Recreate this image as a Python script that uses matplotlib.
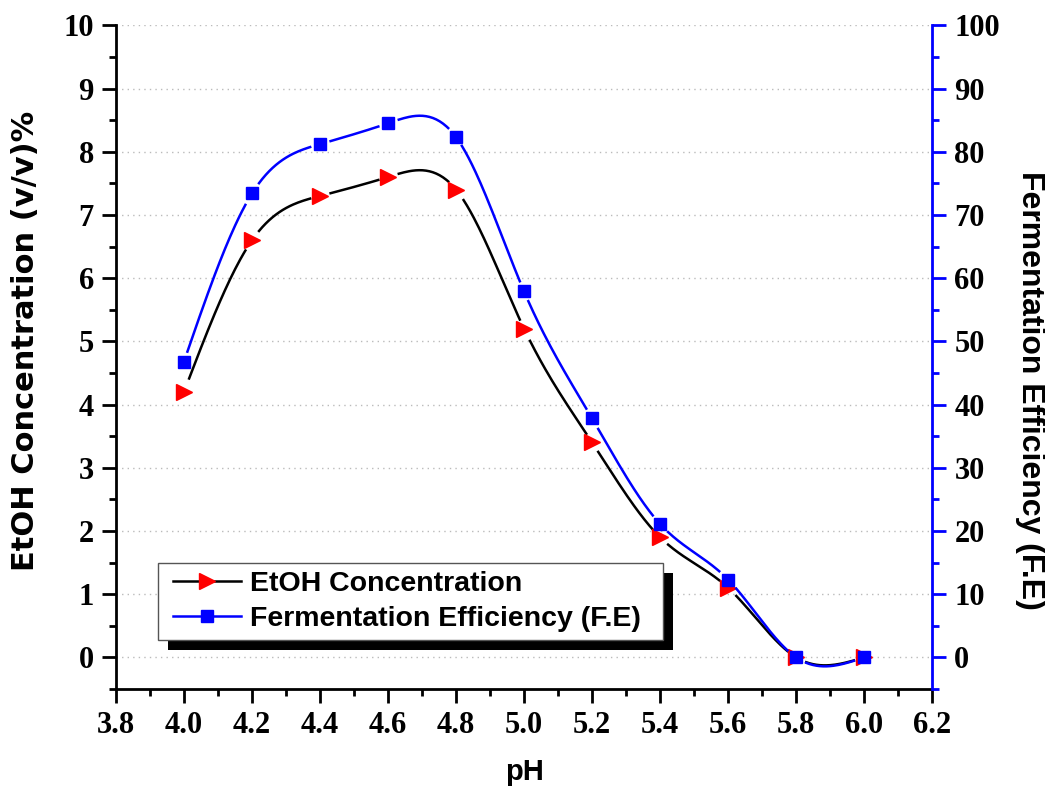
import matplotlib.pyplot as plt
import numpy as np
from matplotlib.patches import Rectangle

ph = [4.0, 4.2, 4.4, 4.6, 4.8, 5.0, 5.2, 5.4, 5.6, 5.8, 6.0]
etoh = [4.2, 6.6, 7.3, 7.6, 7.4, 5.2, 3.4, 1.9, 1.1, 0.0, 0.0]
fe = [46.8, 73.4, 81.2, 84.5, 82.3, 57.9, 37.8, 21.1, 12.3, 0.0, 0.0]


def natural_spline(x, y, n=400):
    x = np.asarray(x, float)
    y = np.asarray(y, float)
    h = np.diff(x)
    m = len(x)
    A = np.zeros((m, m))
    b = np.zeros(m)
    A[0, 0] = A[-1, -1] = 1
    for i in range(1, m - 1):
        A[i, i - 1] = h[i - 1]
        A[i, i] = 2 * (h[i - 1] + h[i])
        A[i, i + 1] = h[i]
        b[i] = 6 * ((y[i + 1] - y[i]) / h[i] - (y[i] - y[i - 1]) / h[i - 1])
    M = np.linalg.solve(A, b)
    xs = np.linspace(x[0], x[-1], n)
    idx = np.clip(np.searchsorted(x, xs) - 1, 0, m - 2)
    x0, x1 = x[idx], x[idx + 1]
    hh = x1 - x0
    t0, t1 = x1 - xs, xs - x0
    ys = (M[idx] * t0**3 + M[idx + 1] * t1**3) / (6 * hh) \
        + (y[idx] / hh - M[idx] * hh / 6) * t0 \
        + (y[idx + 1] / hh - M[idx + 1] * hh / 6) * t1
    return xs, ys


# blank the curve close to each marker (Origin style gap)
def gap_mask(xs, ys, x, y, sx, sy, gap=10):
    out = ys.copy()
    for xi, yi in zip(x, y):
        d = np.hypot((xs - xi) * sx, (ys - yi) * sy)
        out[d < gap] = np.nan
    return out


fig = plt.figure(figsize=(10.45, 7.91), dpi=100)
ax = fig.add_axes([0.111, 0.129, 0.781, 0.839])
ax2 = ax.twinx()

xlim = (3.8, 6.2)
ylim = (-0.5, 10)
ylim2 = (-5, 100)
sx = 816 / (xlim[1] - xlim[0])
sy = 664 / (ylim[1] - ylim[0])
sy2 = 664 / (ylim2[1] - ylim2[0])

xs, ys = natural_spline(ph, etoh)
ax.plot(xs, gap_mask(xs, ys, ph, etoh, sx, sy), color='black', lw=1.8, zorder=3)
ax.plot(ph, etoh, ls='none', marker='>', ms=11, color='red', mec='red', zorder=4)

xs2, ys2 = natural_spline(ph, fe)
ax2.plot(xs2, gap_mask(xs2, ys2, ph, fe, sx, sy2), color='blue', lw=1.8, zorder=3)
ax2.plot(ph, fe, ls='none', marker='s', ms=9, color='blue', mec='blue', zorder=4)

ax.set_xlim(*xlim)
ax.set_ylim(*ylim)
ax2.set_ylim(*ylim2)

xt = np.arange(3.8, 6.21, 0.2)
ax.set_xticks(xt)
ax.set_xticks(np.arange(3.9, 6.2, 0.2), minor=True)
ax.set_xticklabels([f'{v:.1f}' for v in xt])
ax.set_yticks(np.arange(0, 11, 1))
ax.set_yticks(np.arange(-0.5, 10, 1), minor=True)
ax2.set_yticks(np.arange(0, 101, 10))
ax2.set_yticks(np.arange(-5, 100, 10), minor=True)

ax.yaxis.grid(True, which='major', ls=(0, (1, 3)), color='#bbbbbb', lw=1)
ax.set_axisbelow(True)

for lbl in ax.get_xticklabels() + ax.get_yticklabels() + ax2.get_yticklabels():
    lbl.set_fontfamily('Liberation Serif')
    lbl.set_fontweight('bold')
    lbl.set_fontsize(22)

ax.tick_params(which='major', direction='out', length=10, width=2, pad=6)
ax.tick_params(which='minor', direction='out', length=5, width=2)
ax2.tick_params(which='major', direction='out', length=10, width=2, colors='blue', labelcolor='black', pad=6)
ax2.tick_params(which='minor', direction='out', length=5, width=2, colors='blue')

for s in ['left', 'bottom']:
    ax.spines[s].set_linewidth(2)
ax.spines['top'].set_visible(False)
ax.spines['right'].set_visible(False)
for s in ['top', 'left', 'bottom']:
    ax2.spines[s].set_visible(False)
ax2.spines['right'].set_color('blue')
ax2.spines['right'].set_linewidth(2)

ax.set_xlabel('pH', labelpad=13, family='Liberation Sans', weight='bold', size=21)
fig.text(0.024, 0.569, 'EtOH Concentration (v/v)%', rotation=90, ha='center', va='center',
         family='DejaVu Sans', weight='bold', size=22)
fig.text(0.9856, 0.506, 'Fermentation Efficiency (F.E)', rotation=-90, ha='center', va='center',
         family='Liberation Sans', weight='bold', size=23)

# legend frame + black drop shadow
lx, lb, lw_, lh = 0.0515, 0.0738, 0.619, 0.116
ax2.add_patch(Rectangle((lx + 10 / 816, lb - 10 / 664), lw_, lh, transform=ax2.transAxes,
                        facecolor='black', edgecolor='none', zorder=9))
ax2.add_patch(Rectangle((lx, lb), lw_, lh, transform=ax2.transAxes,
                        facecolor='white', edgecolor='#555555', lw=1, zorder=9.5))

h1 = plt.Line2D([], [], color='black', lw=1.8, marker='>', ms=11, mfc='red', mec='red')
h2 = plt.Line2D([], [], color='blue', lw=1.8, marker='s', ms=9, mfc='blue', mec='blue')
leg = ax2.legend([h1, h2], ['EtOH Concentration', 'Fermentation Efficiency (F.E)'],
                 loc='center left', bbox_to_anchor=(0.0699, 0.1318), frameon=False,
                 borderaxespad=0, borderpad=0, handlelength=2.4, handletextpad=0.3,
                 labelspacing=0.3, prop=dict(family='Liberation Sans', weight='bold', size=20.5))
leg.set_zorder(10)

fig.savefig('out.png', dpi=100)
